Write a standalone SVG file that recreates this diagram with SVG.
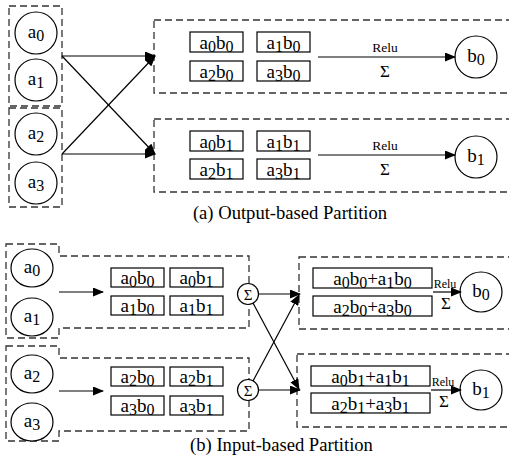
<svg xmlns="http://www.w3.org/2000/svg" width="509" height="460" viewBox="0 0 509 460">
  <defs>
    <style>
      .dash { fill: none; stroke: #333; stroke-width: 1.3; stroke-dasharray: 7 4; }
      .box { fill: none; stroke: #000; stroke-width: 1.2; }
      .node { fill: #fff; stroke: #000; stroke-width: 1.2; }
      .edge { fill: none; stroke: #000; stroke-width: 1.2; marker-end: url(#ah); }
      .lbl { font-family: "Liberation Serif", "Times New Roman", serif; font-size: 19px; text-anchor: middle; fill: #000; }
      .sub { font-size: 16px; }
      .small { font-family: "Liberation Serif", "Times New Roman", serif; font-size: 13.5px; text-anchor: middle; fill: #000; }
      .sig { font-family: "Liberation Serif", "Times New Roman", serif; font-size: 17px; text-anchor: middle; fill: #000; }
      .cap { font-family: "Liberation Serif", "Times New Roman", serif; font-size: 18.6px; text-anchor: middle; fill: #000; }
    </style>
    <marker id="ah" markerUnits="userSpaceOnUse" markerWidth="11" markerHeight="9" refX="10" refY="4.5" orient="auto">
      <path d="M0,0 L11,4.5 L0,9 z" fill="#000"/>
    </marker>
  </defs>
  <rect width="509" height="460" fill="#fff"/>

  <!-- ===== (a) Output-based partition ===== -->
  <g id="a-group-in">
    <rect class="dash" x="9" y="6" width="53" height="100"/>
    <rect class="dash" x="9" y="108" width="53" height="99"/>
  </g>
  <g id="a-node-a0"><circle class="node" cx="36" cy="33" r="21"/><text class="lbl" x="36" y="38">a<tspan class="sub" dy="3">0</tspan></text></g>
  <g id="a-node-a1"><circle class="node" cx="36" cy="80" r="21"/><text class="lbl" x="36" y="85">a<tspan class="sub" dy="3">1</tspan></text></g>
  <g id="a-node-a2"><circle class="node" cx="36" cy="134" r="21"/><text class="lbl" x="36" y="139">a<tspan class="sub" dy="3">2</tspan></text></g>
  <g id="a-node-a3"><circle class="node" cx="36" cy="183" r="21"/><text class="lbl" x="36" y="188">a<tspan class="sub" dy="3">3</tspan></text></g>

  <g id="a-part-b0">
    <rect class="dash" x="154" y="20" width="360" height="73"/>
    <rect class="box" x="190" y="32" width="53" height="20"/>
    <text class="lbl" x="216.5" y="49">a<tspan class="sub" dy="3">0</tspan><tspan dy="-3">b</tspan><tspan class="sub" dy="3">0</tspan></text>
    <rect class="box" x="257" y="32" width="53" height="20"/>
    <text class="lbl" x="283.5" y="49">a<tspan class="sub" dy="3">1</tspan><tspan dy="-3">b</tspan><tspan class="sub" dy="3">0</tspan></text>
    <rect class="box" x="190" y="61" width="53" height="20"/>
    <text class="lbl" x="216.5" y="78">a<tspan class="sub" dy="3">2</tspan><tspan dy="-3">b</tspan><tspan class="sub" dy="3">0</tspan></text>
    <rect class="box" x="257" y="61" width="53" height="20"/>
    <text class="lbl" x="283.5" y="78">a<tspan class="sub" dy="3">3</tspan><tspan dy="-3">b</tspan><tspan class="sub" dy="3">0</tspan></text>
    <text class="small" x="385" y="52">Relu</text>
    <text class="sig" x="385" y="77">Σ</text>
  </g>
  <g id="a-node-b0"><circle class="node" cx="476" cy="57" r="21"/><text class="lbl" x="476" y="62">b<tspan class="sub" dy="3">0</tspan></text></g>

  <g id="a-part-b1">
    <rect class="dash" x="154" y="119" width="360" height="73"/>
    <rect class="box" x="190" y="131" width="53" height="20"/>
    <text class="lbl" x="216.5" y="148">a<tspan class="sub" dy="3">0</tspan><tspan dy="-3">b</tspan><tspan class="sub" dy="3">1</tspan></text>
    <rect class="box" x="257" y="131" width="53" height="20"/>
    <text class="lbl" x="283.5" y="148">a<tspan class="sub" dy="3">1</tspan><tspan dy="-3">b</tspan><tspan class="sub" dy="3">1</tspan></text>
    <rect class="box" x="190" y="159" width="53" height="20"/>
    <text class="lbl" x="216.5" y="176">a<tspan class="sub" dy="3">2</tspan><tspan dy="-3">b</tspan><tspan class="sub" dy="3">1</tspan></text>
    <rect class="box" x="257" y="159" width="53" height="20"/>
    <text class="lbl" x="283.5" y="176">a<tspan class="sub" dy="3">3</tspan><tspan dy="-3">b</tspan><tspan class="sub" dy="3">1</tspan></text>
    <text class="small" x="385" y="150">Relu</text>
    <text class="sig" x="385" y="175">Σ</text>
  </g>
  <g id="a-node-b1"><circle class="node" cx="476" cy="157" r="21"/><text class="lbl" x="476" y="162">b<tspan class="sub" dy="3">1</tspan></text></g>

  <g id="a-connectors">
    <line class="edge" x1="62" y1="56" x2="155" y2="56"/>
    <line class="edge" x1="62" y1="56" x2="155" y2="154"/>
    <line class="edge" x1="62" y1="154" x2="155" y2="56"/>
    <line class="edge" x1="62" y1="154" x2="155" y2="154"/>
    <line class="edge" x1="318" y1="57" x2="455" y2="57"/>
    <line class="edge" x1="318" y1="155" x2="455" y2="155"/>
  </g>

  <text class="cap" x="290" y="219">(a) Output-based Partition</text>

  <!-- ===== (b) Input-based partition ===== -->
  <g id="b-part-a01">
    <path class="dash" d="M6,244 H59 V256 H249 V328 H59 V338 H6 Z"/>
    <rect class="box" x="111" y="268" width="53" height="19"/>
    <text class="lbl" x="137.5" y="284">a<tspan class="sub" dy="3">0</tspan><tspan dy="-3">b</tspan><tspan class="sub" dy="3">0</tspan></text>
    <rect class="box" x="170" y="268" width="53" height="19"/>
    <text class="lbl" x="196.5" y="284">a<tspan class="sub" dy="3">0</tspan><tspan dy="-3">b</tspan><tspan class="sub" dy="3">1</tspan></text>
    <rect class="box" x="111" y="296" width="53" height="19"/>
    <text class="lbl" x="137.5" y="312">a<tspan class="sub" dy="3">1</tspan><tspan dy="-3">b</tspan><tspan class="sub" dy="3">0</tspan></text>
    <rect class="box" x="170" y="296" width="53" height="19"/>
    <text class="lbl" x="196.5" y="312">a<tspan class="sub" dy="3">1</tspan><tspan dy="-3">b</tspan><tspan class="sub" dy="3">1</tspan></text>
  </g>
  <g id="b-node-a0"><ellipse class="node" cx="32" cy="268" rx="21" ry="19"/><text class="lbl" x="32" y="273">a<tspan class="sub" dy="3">0</tspan></text></g>
  <g id="b-node-a1"><ellipse class="node" cx="32" cy="317" rx="21" ry="19"/><text class="lbl" x="32" y="322">a<tspan class="sub" dy="3">1</tspan></text></g>

  <g id="b-part-a23">
    <path class="dash" d="M6,346 H59 V358 H249 V431 H59 V441 H6 Z"/>
    <rect class="box" x="111" y="367" width="53" height="19"/>
    <text class="lbl" x="137.5" y="383">a<tspan class="sub" dy="3">2</tspan><tspan dy="-3">b</tspan><tspan class="sub" dy="3">0</tspan></text>
    <rect class="box" x="170" y="367" width="53" height="19"/>
    <text class="lbl" x="196.5" y="383">a<tspan class="sub" dy="3">2</tspan><tspan dy="-3">b</tspan><tspan class="sub" dy="3">1</tspan></text>
    <rect class="box" x="111" y="396" width="53" height="19"/>
    <text class="lbl" x="137.5" y="412">a<tspan class="sub" dy="3">3</tspan><tspan dy="-3">b</tspan><tspan class="sub" dy="3">0</tspan></text>
    <rect class="box" x="170" y="396" width="53" height="19"/>
    <text class="lbl" x="196.5" y="412">a<tspan class="sub" dy="3">3</tspan><tspan dy="-3">b</tspan><tspan class="sub" dy="3">1</tspan></text>
  </g>
  <g id="b-node-a2"><ellipse class="node" cx="32" cy="374" rx="21" ry="19"/><text class="lbl" x="32" y="379">a<tspan class="sub" dy="3">2</tspan></text></g>
  <g id="b-node-a3"><ellipse class="node" cx="32" cy="422" rx="21" ry="19"/><text class="lbl" x="32" y="427">a<tspan class="sub" dy="3">3</tspan></text></g>

  <g id="b-sum-top"><circle class="node" cx="248" cy="294" r="10.5"/><text class="sig" x="248" y="300" style="font-size:15px">Σ</text></g>
  <g id="b-sum-bottom"><circle class="node" cx="248" cy="390" r="10.5"/><text class="sig" x="248" y="396" style="font-size:15px">Σ</text></g>

  <g id="b-part-b0">
    <rect class="dash" x="299" y="257" width="215" height="72"/>
    <rect class="box" x="313" y="268" width="119" height="20"/>
    <text class="lbl" x="372.5" y="285">a<tspan class="sub" dy="3">0</tspan><tspan dy="-3">b</tspan><tspan class="sub" dy="3">0</tspan><tspan dy="-3">+a</tspan><tspan class="sub" dy="3">1</tspan><tspan dy="-3">b</tspan><tspan class="sub" dy="3">0</tspan></text>
    <rect class="box" x="313" y="296" width="119" height="20"/>
    <text class="lbl" x="372.5" y="313">a<tspan class="sub" dy="3">2</tspan><tspan dy="-3">b</tspan><tspan class="sub" dy="3">0</tspan><tspan dy="-3">+a</tspan><tspan class="sub" dy="3">3</tspan><tspan dy="-3">b</tspan><tspan class="sub" dy="3">0</tspan></text>
    <text class="small" x="445" y="288" style="font-size:12px">Relu</text>
    <text class="sig" x="446" y="309">Σ</text>
  </g>
  <g id="b-node-b0"><ellipse class="node" cx="481" cy="292" rx="21" ry="20"/><text class="lbl" x="481" y="297">b<tspan class="sub" dy="3">0</tspan></text></g>

  <g id="b-part-b1">
    <rect class="dash" x="297" y="354" width="217" height="73"/>
    <rect class="box" x="311" y="366" width="119" height="20"/>
    <text class="lbl" x="370.5" y="383">a<tspan class="sub" dy="3">0</tspan><tspan dy="-3">b</tspan><tspan class="sub" dy="3">1</tspan><tspan dy="-3">+a</tspan><tspan class="sub" dy="3">1</tspan><tspan dy="-3">b</tspan><tspan class="sub" dy="3">1</tspan></text>
    <rect class="box" x="311" y="393" width="119" height="20"/>
    <text class="lbl" x="370.5" y="410">a<tspan class="sub" dy="3">2</tspan><tspan dy="-3">b</tspan><tspan class="sub" dy="3">1</tspan><tspan dy="-3">+a</tspan><tspan class="sub" dy="3">3</tspan><tspan dy="-3">b</tspan><tspan class="sub" dy="3">1</tspan></text>
    <text class="small" x="443" y="386" style="font-size:12px">Relu</text>
    <text class="sig" x="444" y="407">Σ</text>
  </g>
  <g id="b-node-b1"><ellipse class="node" cx="481" cy="390" rx="21" ry="20"/><text class="lbl" x="481" y="395">b<tspan class="sub" dy="3">1</tspan></text></g>

  <g id="b-connectors">
    <line class="edge" x1="59" y1="292" x2="103" y2="292"/>
    <line class="edge" x1="59" y1="391" x2="103" y2="391"/>
    <line class="edge" x1="258.5" y1="294" x2="300" y2="294"/>
    <line class="edge" x1="253" y1="303" x2="299" y2="389"/>
    <line class="edge" x1="253" y1="381" x2="299" y2="295"/>
    <line class="edge" x1="258.5" y1="390" x2="300" y2="390"/>
    <line class="edge" x1="433" y1="292" x2="461" y2="292"/>
    <line class="edge" x1="431" y1="390" x2="461" y2="390"/>
  </g>

  <text class="cap" x="281.5" y="451">(b) Input-based Partition</text>
</svg>
